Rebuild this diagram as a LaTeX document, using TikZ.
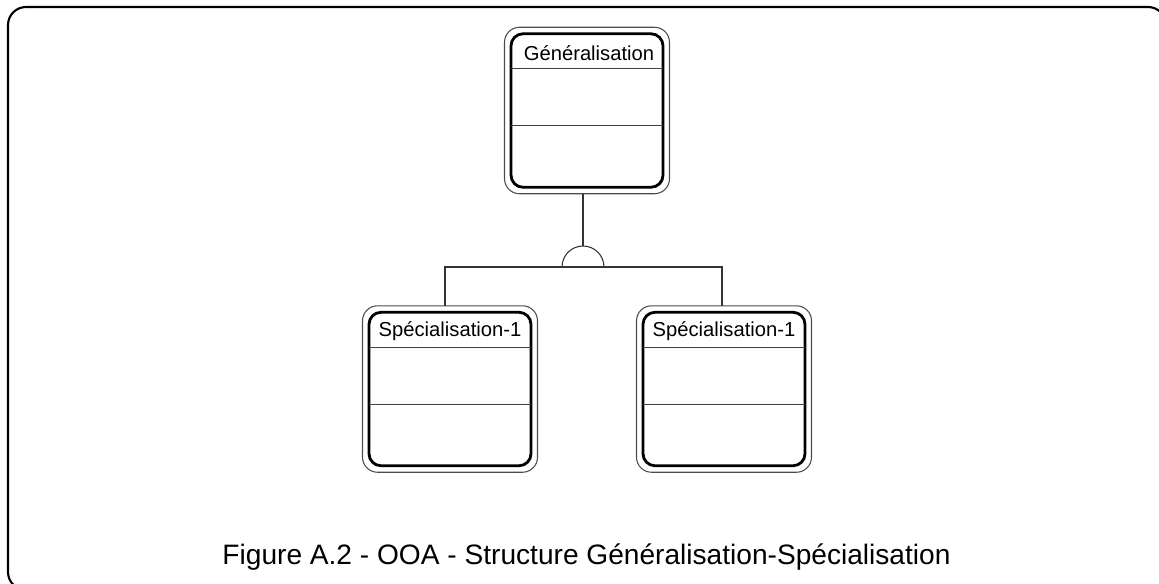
\documentclass[tikz,border=0pt]{standalone}
\usepackage{fontspec}
\setmainfont{Liberation Sans}
\usetikzlibrary{positioning,fit,calc}
\tikzset{
  clsbox/.style={draw, rounded corners=0.24cm, line width=1.6pt, minimum width=3.04cm, minimum height=3.07cm, inner sep=0pt, outer sep=0pt},
  clsframe/.style={draw=black!70, rounded corners=0.3cm, line width=0.6pt, inner sep=0.13cm, outer sep=0pt},
  divline/.style={draw=black!75, line width=0.6pt},
  linkline/.style={draw=black!80, line width=0.6pt},
  clstitle/.style={font=\fontsize{11.5}{13}\selectfont, inner sep=0pt},
  captxt/.style={font=\fontsize{16}{19}\selectfont, inner sep=0pt},
  pageframe/.style={draw, line width=1.2pt, rounded corners=0.36cm}
}
\begin{document}
\begin{tikzpicture}[x=0.02cm, y=-0.02cm]
  \useasboundingbox (0,0) rectangle (1159,583);
  \draw[pageframe] (8,7) rectangle (1166,590);

  \node[clsbox] (gen) at (587,110.5) {};
  \node[clsbox, minimum width=3.24cm] (spa) at (450,389) {};
  \node[clsbox, minimum width=3.24cm] (spb) at (724,389) {};
  \node[clsframe, fit=(gen)] (genf) {};
  \node[clsframe, fit=(spa)] (spaf) {};
  \node[clsframe, fit=(spb)] (spbf) {};

  \foreach \c in {gen,spa,spb} {
    \draw[divline] ($(\c.north west)+(0,35)$) -- ($(\c.north east)+(0,35)$);
    \draw[divline] ($(\c.north west)+(0,92)$) -- ($(\c.north east)+(0,92)$);
  }
  \node[clstitle] (gent) at ($(gen.north)+(2,19)$) {Généralisation};
  \node[clstitle] (spat) at ($(spa.north)+(0,19)$) {Spécialisation-1};
  \node[clstitle] (spbt) at ($(spb.north)+(0,19)$) {Spécialisation-1};

  \coordinate (junc) at (583,267);
  \coordinate (barL) at (445,267);
  \coordinate (barR) at (722,267);
  \draw[linkline] (barL |- spaf.north) -- (barL) -- (barR) -- (barR |- spbf.north);
  \draw[linkline] ([xshift=-0.42cm]junc) arc (180:0:0.42cm);
  \draw[linkline] ($(junc)+(0,-21)$) -- (junc |- genf.south);

  \node[captxt] (cap) at (586.5,557) {Figure A.2 - OOA - Structure Généralisation-Spécialisation};
\end{tikzpicture}
\end{document}
